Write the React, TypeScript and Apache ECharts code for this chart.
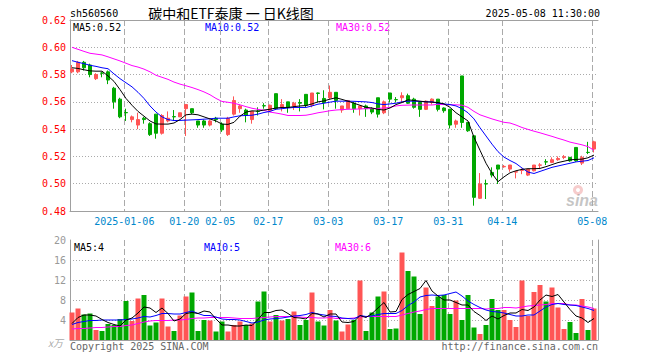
import React, { useEffect, useRef } from 'react';
import * as echarts from 'echarts';

const symbolCode = 'sh560560';
const chartTitle = '碳中和ETF泰康 一 日K线图';
const timestamp = '2025-05-08 11:30:00';
const copyrightText = 'Copyright 2025 SINA.COM';
const siteText = 'http://finance.sina.com.cn';
const volUnit = 'x万';

const dates = [
  '2024-12-23','2024-12-24','2024-12-25','2024-12-26','2024-12-27','2024-12-30','2024-12-31','2025-01-02','2025-01-03','2025-01-06',
  '2025-01-07','2025-01-08','2025-01-09','2025-01-10','2025-01-13','2025-01-14','2025-01-15','2025-01-16','2025-01-17','2025-01-20',
  '2025-01-21','2025-01-22','2025-01-23','2025-01-24','2025-01-27','2025-02-05','2025-02-06','2025-02-07','2025-02-10','2025-02-11',
  '2025-02-12','2025-02-13','2025-02-14','2025-02-17','2025-02-18','2025-02-19','2025-02-20','2025-02-21','2025-02-24','2025-02-25',
  '2025-02-26','2025-02-27','2025-02-28','2025-03-03','2025-03-04','2025-03-05','2025-03-06','2025-03-07','2025-03-10','2025-03-11',
  '2025-03-12','2025-03-13','2025-03-14','2025-03-17','2025-03-18','2025-03-19','2025-03-20','2025-03-21','2025-03-24','2025-03-25',
  '2025-03-26','2025-03-27','2025-03-28','2025-03-31','2025-04-01','2025-04-02','2025-04-03','2025-04-07','2025-04-08','2025-04-09',
  '2025-04-10','2025-04-11','2025-04-14','2025-04-15','2025-04-16','2025-04-17','2025-04-18','2025-04-21','2025-04-22','2025-04-23',
  '2025-04-24','2025-04-25','2025-04-28','2025-04-29','2025-04-30','2025-05-06','2025-05-07','2025-05-08'
];

const markedDates = ['2025-01-06','2025-01-20','2025-02-05','2025-02-17','2025-03-03','2025-03-17','2025-03-31','2025-04-14','2025-05-08'];

const opens = [
  0.582,0.582,0.589,0.587,0.577,0.5812,0.582,0.570,0.562,0.5522,
  0.547,0.543,0.548,0.544,0.551,0.537,0.546,0.5492,0.549,0.555,
  0.555,0.546,0.546,0.543,0.548,0.5437,0.536,0.551,0.555,0.554,
  0.547,0.5532,0.5572,0.5535,0.566,0.556,0.560,0.557,0.5595,0.5655,
  0.5575,0.5665,0.5625,0.563,0.567,0.554,0.555,0.559,0.555,0.557,
  0.555,0.563,0.552,0.5665,0.5617,0.563,0.5645,0.562,0.5595,0.5545,
  0.5595,0.562,0.5555,0.5546,0.5436,0.579,0.5449,0.5351,0.4893,0.5,
  0.5083,0.5137,0.5124,0.5107,0.5085,0.5098,0.5063,0.5095,0.5135,0.5161,
  0.5156,0.5176,0.5193,0.5193,0.5266,0.5151,0.523,0.5254
];
const closes = [
  0.584,0.589,0.585,0.580,0.580,0.581,0.576,0.560,0.549,0.552,
  0.549,0.547,0.547,0.536,0.537,0.550,0.548,0.549,0.552,0.558,
  0.552,0.543,0.543,0.546,0.547,0.5395,0.548,0.561,0.557,0.550,
  0.553,0.553,0.557,0.5575,0.555,0.558,0.556,0.559,0.559,0.5575,
  0.5665,0.5662,0.5595,0.567,0.561,0.557,0.561,0.555,0.557,0.555,
  0.5525,0.551,0.560,0.562,0.5615,0.5645,0.559,0.556,0.5545,0.5605,
  0.562,0.5545,0.5535,0.543,0.546,0.5449,0.5388,0.490,0.4998,0.4998,
  0.5063,0.5107,0.5127,0.5137,0.5088,0.5101,0.5107,0.5137,0.5138,0.5159,
  0.5176,0.5185,0.5197,0.5168,0.5168,0.5193,0.5229,0.5307
];
const lows = [
  0.581,0.581,0.583,0.578,0.576,0.578,0.573,0.555,0.548,0.546,
  0.545,0.540,0.544,0.535,0.533,0.536,0.545,0.546,0.549,0.535,
  0.551,0.541,0.541,0.542,0.545,0.538,0.535,0.550,0.552,0.545,
  0.544,0.550,0.555,0.553,0.554,0.553,0.552,0.554,0.553,0.556,
  0.556,0.5595,0.5545,0.562,0.555,0.552,0.555,0.552,0.550,0.549,
  0.551,0.5485,0.551,0.5595,0.5595,0.5595,0.5585,0.555,0.549,0.554,
  0.558,0.553,0.552,0.5405,0.541,0.541,0.538,0.4839,0.4888,0.4888,
  0.5046,0.4998,0.5117,0.5088,0.5039,0.507,0.5056,0.509,0.5107,0.5137,
  0.5151,0.5168,0.518,0.5161,0.5161,0.5137,0.5217,0.5229
];
const highs = [
  0.587,0.590,0.590,0.588,0.581,0.582,0.583,0.571,0.563,0.555,
  0.550,0.552,0.549,0.545,0.551,0.551,0.553,0.554,0.552,0.558,
  0.555,0.546,0.547,0.547,0.549,0.545,0.549,0.564,0.558,0.555,
  0.553,0.556,0.559,0.558,0.566,0.562,0.560,0.560,0.562,0.5655,
  0.5665,0.5668,0.5685,0.572,0.567,0.557,0.561,0.560,0.557,0.558,
  0.556,0.563,0.561,0.5665,0.5635,0.567,0.566,0.563,0.560,0.561,
  0.5625,0.562,0.556,0.5546,0.547,0.579,0.545,0.5351,0.5078,0.503,
  0.512,0.5137,0.5137,0.5137,0.5088,0.5112,0.5107,0.5137,0.5151,0.518,
  0.5193,0.52,0.521,0.5195,0.5266,0.5205,0.5307,0.5315
];

const ma5 = [
  0.585,0.5845,0.5835,0.5827,0.5825,0.5825,0.579,0.575,0.569,0.5625,
  0.5575,0.553,0.5495,0.546,0.5438,0.5437,0.5437,0.5445,0.547,0.5505,
  0.551,0.5505,0.549,0.5475,0.546,0.5437,0.5435,0.545,0.5495,0.5525,
  0.5534,0.5532,0.554,0.5546,0.5555,0.5559,0.5559,0.5565,0.557,0.5573,
  0.5585,0.56,0.5607,0.562,0.563,0.5618,0.5605,0.559,0.5575,0.556,
  0.5555,0.5545,0.554,0.5555,0.558,0.5595,0.5615,0.561,0.5605,0.56,
  0.5598,0.5595,0.5585,0.556,0.552,0.549,0.546,0.534,0.5245,0.515,
  0.5075,0.5015,0.505,0.508,0.5095,0.5105,0.511,0.511,0.5112,0.5125,
  0.514,0.5155,0.5165,0.5175,0.5178,0.518,0.519,0.521
];
const ma10 = [
  0.5902,0.589,0.588,0.5868,0.586,0.585,0.5843,0.5805,0.577,0.574,
  0.571,0.567,0.5625,0.557,0.5525,0.549,0.547,0.5463,0.5464,0.5466,
  0.5468,0.547,0.5473,0.5476,0.548,0.548,0.548,0.549,0.5498,0.55,
  0.5502,0.551,0.5522,0.553,0.5546,0.555,0.5555,0.5559,0.5559,0.5559,
  0.557,0.5583,0.559,0.5598,0.5605,0.5605,0.5605,0.5604,0.5602,0.56,
  0.5595,0.5585,0.558,0.5585,0.559,0.56,0.5605,0.5605,0.5603,0.56,
  0.56,0.559,0.5585,0.558,0.557,0.555,0.552,0.5475,0.541,0.535,
  0.529,0.5235,0.5195,0.517,0.5148,0.5115,0.5085,0.5075,0.509,0.5105,
  0.512,0.513,0.514,0.515,0.516,0.5165,0.517,0.519
];
const ma30 = [
  0.600,0.5985,0.597,0.5956,0.595,0.5944,0.593,0.5915,0.590,0.5883,
  0.5866,0.5855,0.584,0.582,0.5795,0.578,0.5765,0.5745,0.573,0.5718,
  0.5705,0.569,0.5673,0.5652,0.5625,0.5603,0.5597,0.559,0.5578,0.5565,
  0.5553,0.5545,0.5538,0.5525,0.5518,0.551,0.55,0.55,0.55,0.5502,
  0.551,0.552,0.5527,0.5535,0.554,0.5543,0.5546,0.5546,0.5548,0.555,
  0.555,0.5552,0.5555,0.556,0.557,0.5575,0.5576,0.5577,0.5577,0.5577,
  0.5577,0.5582,0.558,0.5579,0.5578,0.5576,0.556,0.553,0.5505,0.549,
  0.5475,0.5462,0.545,0.5445,0.543,0.5412,0.5398,0.5385,0.5373,0.536,
  0.5347,0.5333,0.532,0.5305,0.5295,0.5285,0.5272,0.5245
];

const volumes = [
  5.5,6.3,5.1,5.3,2.0,1.8,3.2,3.0,4.2,7.8,
  3.8,8.3,9.0,2.9,3.5,8.3,2.7,1.8,4.9,8.7,
  9.5,1.8,4.0,3.9,1.7,3.7,1.7,3.0,3.7,3.0,
  3.3,7.7,9.7,3.7,5.0,3.9,4.2,5.7,3.0,4.0,
  9.5,3.7,2.9,6.0,3.9,1.7,3.1,4.0,11.9,1.8,
  5.5,8.7,9.7,2.2,2.3,17.5,13.8,12.7,5.2,10.5,
  6.8,8.7,9.0,5.2,7.9,4.0,9.0,2.5,1.2,3.0,
  8.2,6.0,6.0,4.0,2.6,11.9,4.8,9.6,11.0,7.7,
  10.5,6.5,2.2,3.6,1.4,8.2,2.0,6.3
];
const volMa5 = [
  3.3,4.5,5.0,5.0,4.8,4.1,3.5,3.1,2.8,4.0,
  4.4,5.4,6.6,6.4,5.5,6.4,5.3,3.8,4.2,5.3,
  5.5,5.3,5.8,5.6,4.2,3.0,3.0,2.8,2.8,3.0,
  2.9,4.1,5.5,5.5,5.9,6.0,5.3,4.5,4.4,4.2,
  5.3,5.2,4.6,5.2,5.2,3.6,3.5,3.7,4.9,4.5,
  5.3,6.4,7.5,5.6,5.7,8.1,9.1,9.7,10.3,11.9,
  9.8,8.8,8.0,8.0,7.5,7.0,7.0,5.7,4.9,3.9,
  4.8,4.2,4.9,5.4,5.4,6.1,5.9,6.6,8.0,9.0,
  8.7,9.1,7.6,6.1,4.8,4.4,3.5,4.3
];
const volMa10 = [
  3.1,3.5,3.7,3.9,3.9,4.0,4.0,4.0,4.0,4.1,
  4.2,4.4,4.7,4.6,4.9,5.3,5.3,5.2,5.2,5.5,
  5.8,5.3,4.9,4.9,4.6,4.2,4.1,4.1,4.0,3.7,
  3.4,3.6,4.0,4.2,4.3,4.4,4.6,4.8,4.9,5.1,
  5.5,5.2,5.0,4.8,4.7,4.4,4.3,4.2,4.9,4.7,
  4.8,5.1,5.3,5.3,5.3,5.9,6.9,7.6,8.6,8.9,
  9.0,8.9,9.0,9.3,9.6,8.8,7.8,7.1,6.5,6.0,
  5.7,5.6,5.4,5.1,4.8,4.8,5.0,5.0,5.8,6.6,
  7.1,7.3,7.1,7.0,6.9,6.6,6.3,5.9
];
const volMa30 = [
  2.2,2.3,2.3,2.4,2.5,2.5,2.6,2.7,2.7,2.9,
  3.0,3.3,3.6,3.8,3.9,3.9,3.9,4.0,4.0,4.1,
  4.3,4.4,4.4,4.5,4.5,4.5,4.5,4.4,4.3,4.3,
  4.3,4.4,4.5,4.6,4.7,4.7,4.7,4.7,4.6,4.5,
  4.5,4.4,4.4,4.5,4.3,4.3,4.3,4.4,4.6,4.7,
  4.7,4.7,4.7,4.7,4.7,5.0,5.3,5.6,5.8,6.1,
  6.3,6.3,6.3,6.3,6.3,6.3,6.3,6.3,6.3,6.2,
  6.3,6.3,6.5,6.5,6.4,6.6,6.8,6.9,7.0,7.1,
  7.3,7.3,7.3,7.0,7.0,6.8,6.6,6.3
];

const PRICE_MIN = 0.48, PRICE_MAX = 0.62, PRICE_STEP = 0.02;
const VOL_MIN = 0, VOL_MAX = 20, VOL_STEP = 4;

const UP = '#ff5555';
const DOWN = '#00a800';
const FRAME = '#a0a0a0';
const GRIDC = '#aaaaaa';
const MONO = 'DejaVu Sans Mono';
const CJK = 'Noto Sans CJK SC';

export default function App() {
  const ref = useRef<HTMLDivElement>(null);

  useEffect(() => {
    if (!ref.current) return;
    const chart = echarts.init(ref.current, undefined, { renderer: 'svg' });
    const last = dates.length - 1;
    const isMarked = (idx: number) => markedDates.includes(dates[idx]);
    const dashed = { color: GRIDC, type: [6, 3] as any, width: 1 };
    const dotted = { color: GRIDC, type: [1, 2] as any, width: 1 };

    const frameX = (gi: number, pos: 'top' | 'bottom') => ({
      type: 'value', gridIndex: gi, position: pos, min: 0, max: 1,
      axisLine: { show: true, lineStyle: { color: FRAME, width: 1 } },
      axisTick: { show: false }, axisLabel: { show: false }, splitLine: { show: false },
    });
    const frameYRight = (gi: number, min: number, max: number) => ({
      type: 'value', gridIndex: gi, position: 'right', min, max,
      axisLine: { show: true, lineStyle: { color: FRAME, width: 1 } },
      axisTick: { show: false }, axisLabel: { show: false }, splitLine: { show: false },
    });
    const hiddenY = (gi: number, min: number, max: number) => ({ type: 'value', gridIndex: gi, min, max, show: false });

    const candleData = dates.map((_, i) => [opens[i], closes[i], lows[i], highs[i]]);
    const volData = volumes.map((v, i) => ({ value: v, itemStyle: { color: closes[i] >= opens[i] ? UP : DOWN } }));

    const lineS = (data: number[], color: string, xi: number, yi: number) => ({
      type: 'line', data, xAxisIndex: xi, yAxisIndex: yi, symbol: 'none', showSymbol: false,
      lineStyle: { color, width: 1 }, clip: false, z: 5, silent: true,
    });

    const txt = (text: string, x: number, y: number, fill: string, font: string, align = 'left') => ({
      type: 'text', x, y, silent: true,
      style: { text, fill, font, textAlign: align, textVerticalAlign: 'middle' },
    });

    const option: any = {
      animation: false,
      backgroundColor: '#ffffff',
      textStyle: { fontFamily: MONO },
      grid: [
        { left: 70, top: 20, width: 528, height: 191 },
        { left: 70.3, top: 20, width: 522, height: 191 },
        { left: 72, top: 20, width: 522, height: 191 },
        { left: 70, top: 240, width: 528, height: 100 },
        { left: 70.3, top: 240, width: 522, height: 100 },
        { left: 72, top: 240, width: 522, height: 100 },
      ],
      xAxis: [
        frameX(0, 'bottom'),
        frameX(0, 'top'),
        {
          type: 'category', gridIndex: 1, data: dates, boundaryGap: false,
          axisLine: { show: false }, axisTick: { show: false },
          axisLabel: {
            interval: (i: number) => isMarked(i), color: '#0088cc', fontFamily: MONO, fontSize: 10, margin: 5,
            formatter: (v: string) => (v === markedDates[0] ? v : v.slice(5)),
          },
          splitLine: { show: true, interval: (i: number) => isMarked(i), lineStyle: dashed },
        },
        { type: 'category', gridIndex: 2, data: dates, boundaryGap: false, show: false },
        frameX(3, 'top'),
        {
          type: 'category', gridIndex: 4, data: dates, boundaryGap: false,
          axisLine: { show: false }, axisTick: { show: false }, axisLabel: { show: false },
          splitLine: { show: true, interval: (i: number) => isMarked(i), lineStyle: dashed },
        },
        { type: 'category', gridIndex: 5, data: dates, boundaryGap: false, show: false },
      ],
      yAxis: [
        {
          type: 'value', gridIndex: 0, position: 'left', min: PRICE_MIN, max: PRICE_MAX, interval: PRICE_STEP,
          axisLine: { show: true, lineStyle: { color: FRAME, width: 1 } }, axisTick: { show: false },
          axisLabel: { color: '#ff0000', fontFamily: MONO, fontSize: 10, margin: 4, formatter: (v: number) => v.toFixed(2) },
          splitLine: { show: true, lineStyle: dotted, showMinLine: false, showMaxLine: false },
        },
        frameYRight(0, PRICE_MIN, PRICE_MAX),
        hiddenY(1, PRICE_MIN, PRICE_MAX),
        hiddenY(2, PRICE_MIN, PRICE_MAX),
        {
          type: 'value', gridIndex: 3, position: 'left', min: VOL_MIN, max: VOL_MAX, interval: VOL_STEP,
          axisLine: { show: true, lineStyle: { color: FRAME, width: 1 } }, axisTick: { show: false },
          axisLabel: { color: '#999999', fontFamily: MONO, fontSize: 10, margin: 4, formatter: (v: number) => (v === 0 ? '' : String(v)) },
          splitLine: { show: true, lineStyle: dotted, showMinLine: false, showMaxLine: false },
        },
        frameYRight(3, VOL_MIN, VOL_MAX),
        hiddenY(4, VOL_MIN, VOL_MAX),
        hiddenY(5, VOL_MIN, VOL_MAX),
      ],
      series: [
        {
          type: 'candlestick', xAxisIndex: 3, yAxisIndex: 3, data: candleData, barWidth: 4, clip: false, silent: true,
          itemStyle: { color: UP, color0: DOWN, borderColor: UP, borderColor0: DOWN, borderWidth: 1 },
        },
        lineS(ma30, '#ff00ff', 3, 3),
        lineS(ma10, '#0000ff', 3, 3),
        lineS(ma5, '#000000', 3, 3),
        { type: 'bar', xAxisIndex: 6, yAxisIndex: 7, data: volData, barWidth: 5, clip: false, silent: true },
        lineS(volMa30, '#ff00ff', 6, 7),
        lineS(volMa10, '#0000ff', 6, 7),
        lineS(volMa5, '#000000', 6, 7),
      ],
      graphic: [
        txt(symbolCode, 70, 13, '#000', `10px "${MONO}"`),
        txt(chartTitle, 231, 13, '#000', `14px "${CJK}"`, 'center'),
        txt(timestamp, 600, 13, '#000', `10px "${MONO}"`, 'right'),
        txt(`MA5:${ma5[last].toFixed(2)}`, 73, 27, '#000', `10px "${MONO}"`),
        txt(`MA10:${ma10[last].toFixed(2)}`, 205, 27, '#0000ff', `10px "${MONO}"`),
        txt(`MA30:${ma30[last].toFixed(2)}`, 336, 27, '#ff00ff', `10px "${MONO}"`),
        txt(`MA5:${Math.floor(volMa5[last])}`, 74, 247, '#000', `10px "${MONO}"`),
        txt(`MA10:${Math.floor(volMa10[last])}`, 204, 247, '#0000ff', `10px "${MONO}"`),
        txt(`MA30:${Math.floor(volMa30[last])}`, 335, 247, '#ff00ff', `10px "${MONO}"`),
        txt(volUnit, 63, 342, '#aaaaaa', `italic 10px "${CJK}"`, 'right'),
        txt(copyrightText, 70, 346, '#666666', `10px "${MONO}"`),
        txt(siteText, 598, 346, '#666666', `10px "${MONO}"`, 'right'),
        {
          type: 'ring', silent: true, shape: { cx: 578, cy: 190, r: 5, r0: 2 },
          style: { fill: 'rgba(230,110,110,0.35)' },
        },
        txt('sina', 582, 200, 'rgba(140,140,140,0.5)', 'italic bold 16px "Liberation Sans"', 'center'),
      ],
    };

    chart.setOption(option);
    return () => chart.dispose();
  }, []);

  return (
    <div
      ref={ref}
      style={{ position: 'fixed', left: 0, top: 0, width: 660, height: 360, background: '#fff' }}
    />
  );
}
